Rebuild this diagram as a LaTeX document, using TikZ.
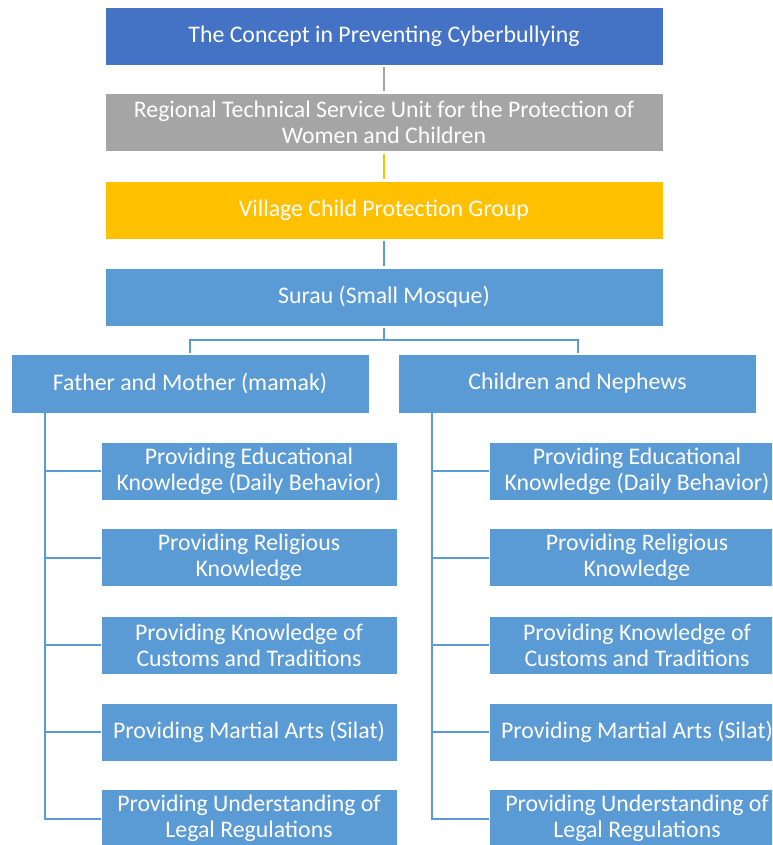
\documentclass[tikz,border=0pt]{standalone}
\usepackage{fontspec}
\setmainfont{Carlito}
\definecolor{darkblue}{HTML}{4472C4}
\definecolor{midgray}{HTML}{A5A5A5}
\definecolor{gold}{HTML}{FFC000}
\definecolor{lightblue}{HTML}{5B9BD5}
\tikzset{
  box/.style={draw=white, line width=0.6pt, text=white, align=center,
    inner sep=2pt, font=\fontsize{23.8}{26}\selectfont},
  wide/.style={box, minimum width=558pt, minimum height=58pt},
  mid/.style={box, fill=lightblue, minimum width=358pt, minimum height=59pt},
  leaf/.style={box, fill=lightblue, minimum width=296pt, minimum height=58pt},
  link/.style={line width=2pt, draw=lightblue},
}
\begin{document}
\begin{tikzpicture}  % ------ Concept in preventing cyberbullying -------------------
      [x=1pt,y=-1pt]

    \clip (0,0) rectangle (772,845) ;

    \node[wide, fill=darkblue] (concept) at (384,36) {The Concept in Preventing Cyberbullying} ;
    \node[wide, fill=midgray] (unit) at (384,122.5) {Regional Technical Service Unit for the Protection of\\Women and Children} ;
    \node[wide, fill=gold] (village) at (384,210) {Village Child Protection Group} ;
    \node[wide, fill=lightblue] (surau) at (384,297) {Surau (Small Mosque)} ;

    \node[mid] (parents) at (190,383.5) {Father and Mother (mamak)} ;
    \node[mid] (kids) at (577.5,383.5) {Children and Nephews} ;

    % left column
    \node[leaf] (pa) at (249,471) {Providing Educational\\Knowledge (Daily Behavior)} ;
    \node[leaf] (pb) at (249,557.5) {Providing Religious\\Knowledge} ;
    \node[leaf] (pc) at (249,645) {Providing Knowledge of\\Customs and Traditions} ;
    \node[leaf] (pd) at (249,732) {Providing Martial Arts (Silat)} ;
    \node[leaf] (pe) at (249,818.5) {Providing Understanding of\\Legal Regulations} ;

    % right column
    \node[leaf] (ka) at (637,471) {Providing Educational\\Knowledge (Daily Behavior)} ;
    \node[leaf] (kb) at (637,557.5) {Providing Religious\\Knowledge} ;
    \node[leaf] (kc) at (637,645) {Providing Knowledge of\\Customs and Traditions} ;
    \node[leaf] (kd) at (637,732) {Providing Martial Arts (Silat)} ;
    \node[leaf] (ke) at (637,818.5) {Providing Understanding of\\Legal Regulations} ;

    \draw[link, draw=midgray, shorten <=2pt, shorten >=2pt] (concept) -- (unit) ;
    \draw[link, draw=gold, shorten <=2pt, shorten >=2pt] (unit) -- (village) ;
    \draw[link, shorten <=2pt, shorten >=2pt] (village) -- (surau) ;
    \draw[link, shorten <=2pt] (surau.south) -- ++(0,14) coordinate (fork) ;
    \draw[link, shorten >=1pt] (fork) -| (parents.north) ;
    \draw[link, shorten >=1pt] (fork) -| (kids.north) ;

    \coordinate (pspine) at ([xshift=34pt]parents.south west) ;
    \coordinate (kspine) at ([xshift=34pt]kids.south west) ;
    \draw[link] (pspine) |- (pa.west) ; \draw[link] (pspine) |- (pb.west) ;
    \draw[link] (pspine) |- (pc.west) ; \draw[link] (pspine) |- (pd.west) ;
    \draw[link] (pspine) |- (pe.west) ;
    \draw[link] (kspine) |- (ka.west) ; \draw[link] (kspine) |- (kb.west) ;
    \draw[link] (kspine) |- (kc.west) ; \draw[link] (kspine) |- (kd.west) ;
    \draw[link] (kspine) |- (ke.west) ;
\end{tikzpicture}
\end{document}
